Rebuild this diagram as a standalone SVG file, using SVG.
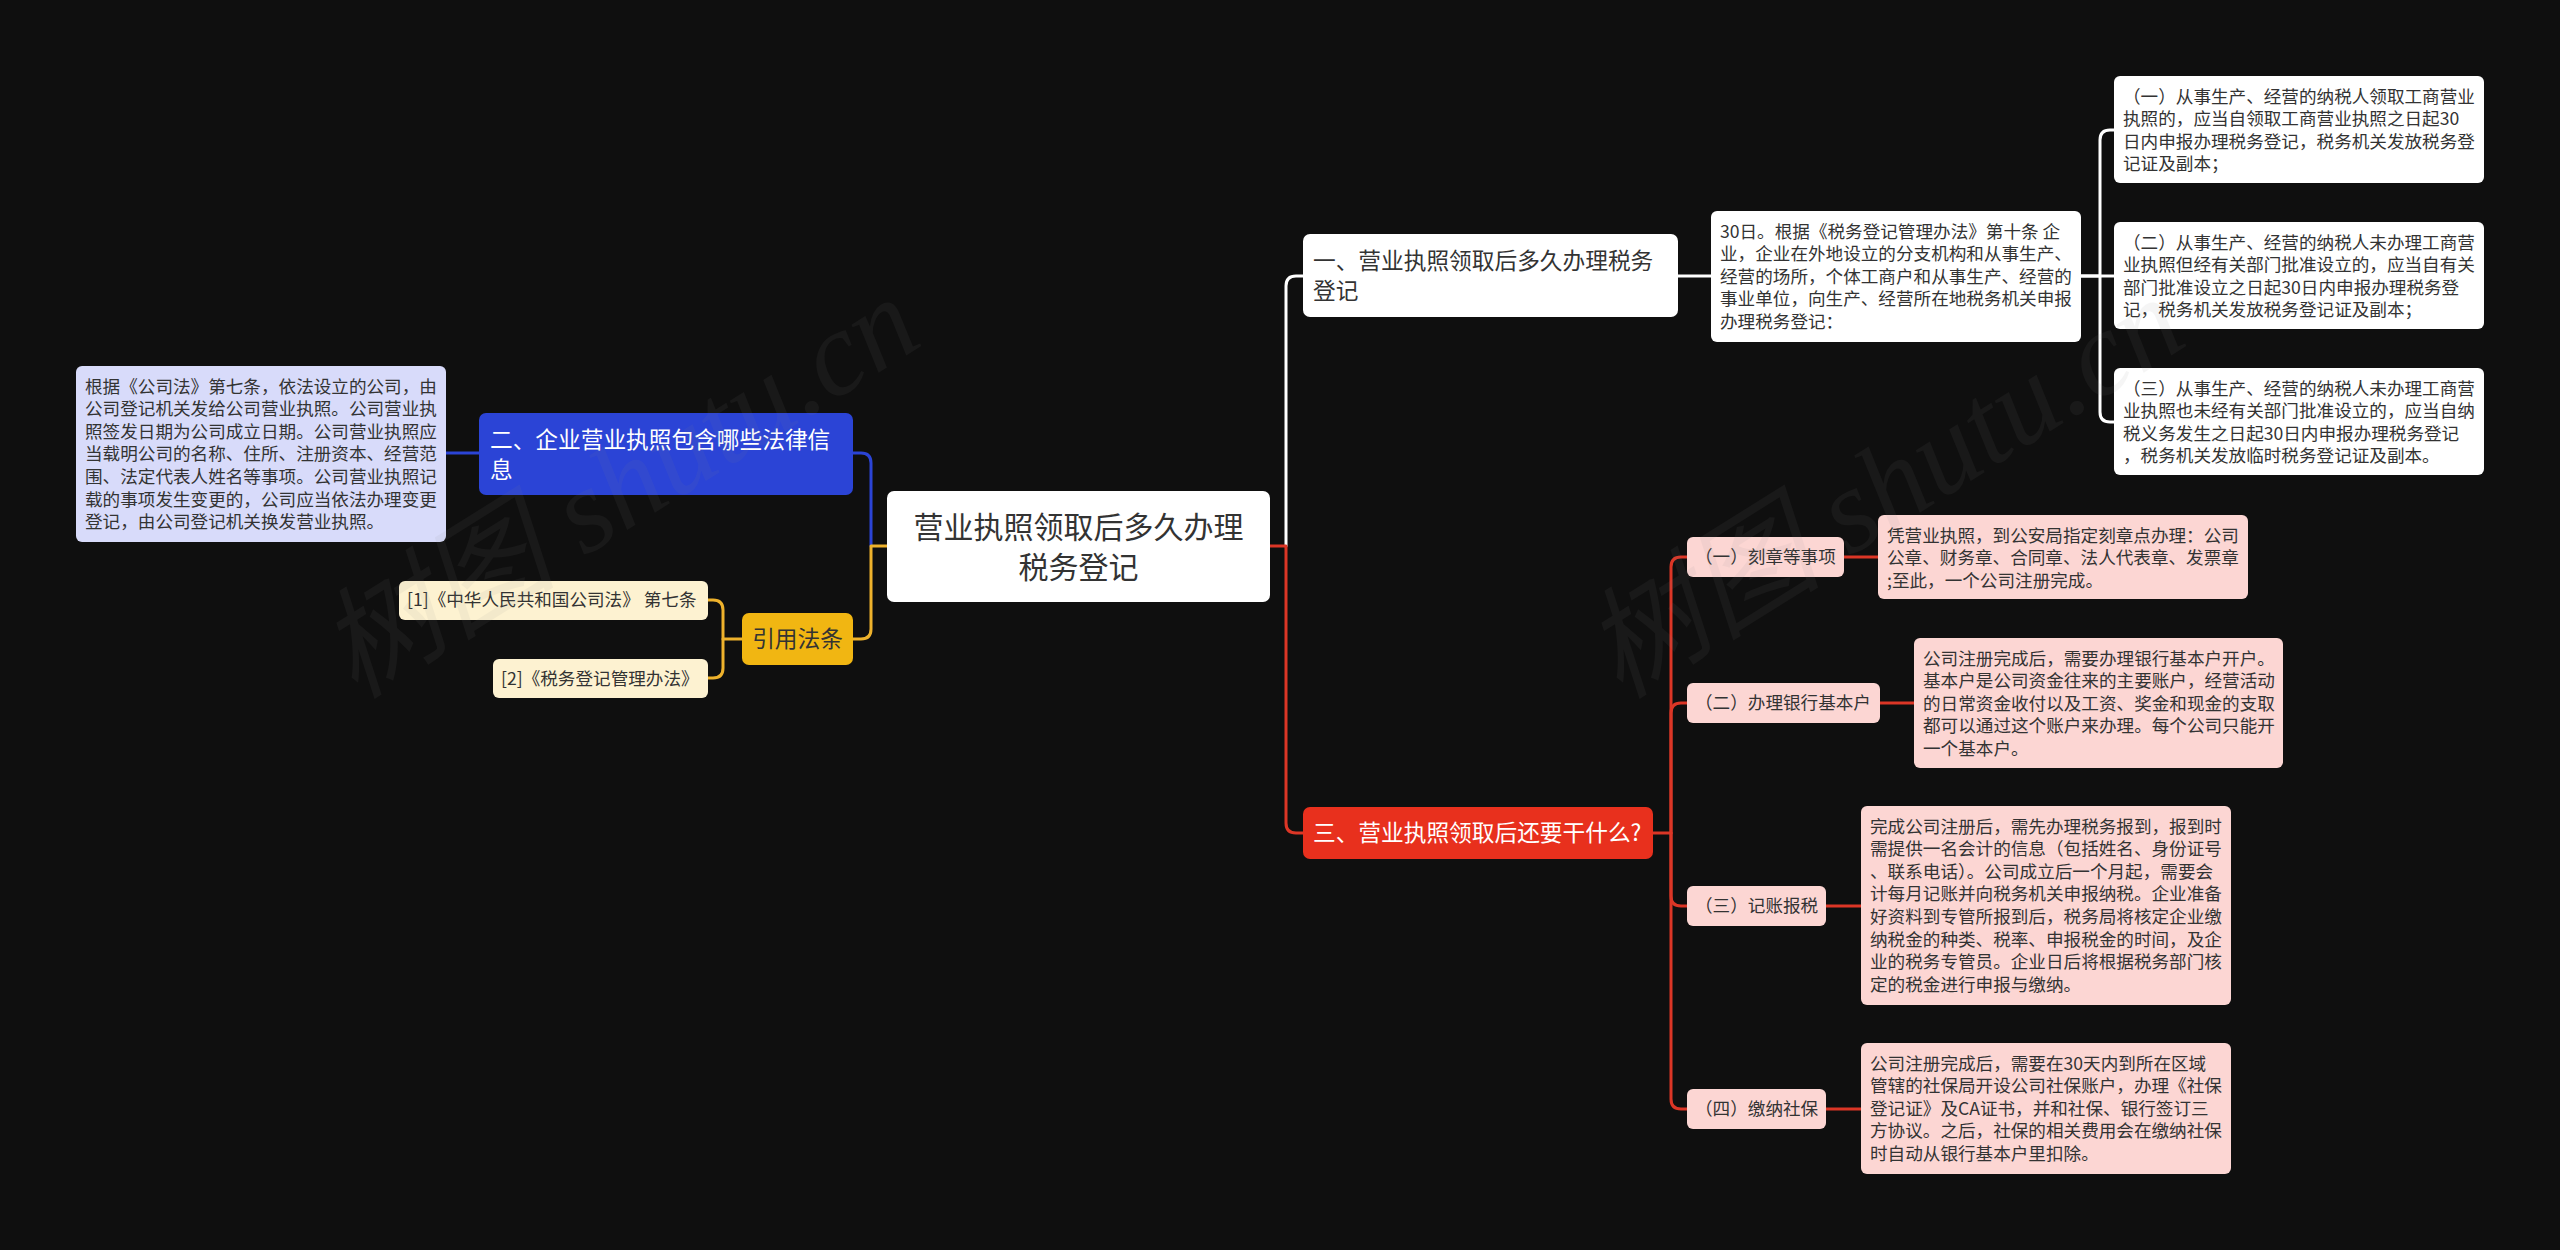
<svg xmlns="http://www.w3.org/2000/svg" width="2560" height="1250" viewBox="0 0 2560 1250">
<style>
.t{font-family:'Noto Sans CJK SC','Noto Sans',sans-serif;fill:#333333}
.w{fill:#ffffff}
.s{font-size:17.6px}
.m{font-size:22.7px}
.l{font-size:30px}
.c{fill:none;stroke-width:3;stroke-linecap:round;stroke-linejoin:round}
.cw{stroke:#ffffff}
.cb{stroke:#2b44d6}
.cy{stroke:#eeb22c}
.cr{stroke:#dc3626}
.wm{font-family:'Liberation Serif','Noto Sans CJK SC',serif;font-size:120px;font-style:italic;fill:#8a8a8a;opacity:0.08}
</style>
<rect x="0" y="0" width="2560" height="1250" fill="#0f0f0f"/>

<g id="connectors">
  <path class="c cb" d="M871 546 V463 Q871 453 861 453 H853"/>
  <path class="c cy" d="M887 546 H871 V629 Q871 639 861 639 H853"/>
  <path class="c cb" d="M479 453 H446"/>
  <path class="c cy" d="M742 639 H723 V610 Q723 600 713 600 H708"/>
  <path class="c cy" d="M723 639 V668 Q723 678 713 678 H708"/>
  <path class="c cw" d="M1286 546 V286 Q1286 276 1296 276 H1303"/>
  <path class="c cr" d="M1270 546 H1286 V823 Q1286 833 1296 833 H1303"/>
  <path class="c cw" d="M1678 276 H1711"/>
  <path class="c cw" d="M2081 276 H2100 V140 Q2100 130 2110 130 H2114"/>
  <path class="c cw" d="M2081 276 H2114"/>
  <path class="c cw" d="M2100 276 V412 Q2100 422 2110 422 H2114"/>
  <path class="c cr" d="M1653 833 H1671 V567 Q1671 557 1681 557 H1687"/>
  <path class="c cr" d="M1671 833 V713 Q1671 703 1681 703 H1687"/>
  <path class="c cr" d="M1671 833 V896 Q1671 906 1681 906 H1687"/>
  <path class="c cr" d="M1671 833 V1099 Q1671 1109 1681 1109 H1687"/>
  <path class="c cr" d="M1844 557 H1878"/>
  <path class="c cr" d="M1880 703 H1914"/>
  <path class="c cr" d="M1826 906 H1861"/>
  <path class="c cr" d="M1826 1109 H1861"/>
</g>

<g id="root">
  <rect x="887" y="491" width="383" height="111" rx="7" fill="#ffffff"/>
  <text class="t l" text-anchor="middle"><tspan x="1078.5" y="538">营业执照领取后多久办理</tspan><tspan x="1078.5" y="578">税务登记</tspan></text>
</g>

<g id="branch1">
  <rect x="1303" y="234" width="375" height="83" rx="7" fill="#ffffff"/>
  <text class="t m"><tspan x="1313" y="269">一、营业执照领取后多久办理税务</tspan><tspan x="1313" y="299">登记</tspan></text>
</g>
<g id="branch1-detail">
  <rect x="1711" y="211" width="370" height="131" rx="6" fill="#ffffff"/>
  <text class="t s"><tspan x="1720" y="237.5">30日。根据《税务登记管理办法》第十条 企</tspan><tspan x="1720" y="260.1">业，企业在外地设立的分支机构和从事生产、</tspan><tspan x="1720" y="282.7">经营的场所，个体工商户和从事生产、经营的</tspan><tspan x="1720" y="305.3">事业单位，向生产、经营所在地税务机关申报</tspan><tspan x="1720" y="327.9">办理税务登记：</tspan></text>
</g>
<g id="b1-item1">
  <rect x="2114" y="76" width="370" height="107" rx="6" fill="#ffffff"/>
  <text class="t s"><tspan x="2123" y="102.5">（一）从事生产、经营的纳税人领取工商营业</tspan><tspan x="2123" y="125.1">执照的，应当自领取工商营业执照之日起30</tspan><tspan x="2123" y="147.7">日内申报办理税务登记，税务机关发放税务登</tspan><tspan x="2123" y="170.3">记证及副本；</tspan></text>
</g>
<g id="b1-item2">
  <rect x="2114" y="222" width="370" height="107" rx="6" fill="#ffffff"/>
  <text class="t s"><tspan x="2123" y="248.5">（二）从事生产、经营的纳税人未办理工商营</tspan><tspan x="2123" y="271.1">业执照但经有关部门批准设立的，应当自有关</tspan><tspan x="2123" y="293.7">部门批准设立之日起30日内申报办理税务登</tspan><tspan x="2123" y="316.3">记，税务机关发放税务登记证及副本；</tspan></text>
</g>
<g id="b1-item3">
  <rect x="2114" y="368" width="370" height="107" rx="6" fill="#ffffff"/>
  <text class="t s"><tspan x="2123" y="394.5">（三）从事生产、经营的纳税人未办理工商营</tspan><tspan x="2123" y="417.1">业执照也未经有关部门批准设立的，应当自纳</tspan><tspan x="2123" y="439.7">税义务发生之日起30日内申报办理税务登记</tspan><tspan x="2123" y="462.3">，税务机关发放临时税务登记证及副本。</tspan></text>
</g>

<g id="branch2">
  <rect x="479" y="413" width="374" height="82" rx="7" fill="#2b44d6"/>
  <text class="t m w"><tspan x="490" y="448">二、企业营业执照包含哪些法律信</tspan><tspan x="490" y="478">息</tspan></text>
</g>
<g id="branch2-detail">
  <rect x="76" y="366" width="370" height="176" rx="6" fill="#d8dbfa"/>
  <text class="t s"><tspan x="85" y="392.5">根据《公司法》第七条，依法设立的公司，由</tspan><tspan x="85" y="415.1">公司登记机关发给公司营业执照。公司营业执</tspan><tspan x="85" y="437.7">照签发日期为公司成立日期。公司营业执照应</tspan><tspan x="85" y="460.3">当载明公司的名称、住所、注册资本、经营范</tspan><tspan x="85" y="482.9">围、法定代表人姓名等事项。公司营业执照记</tspan><tspan x="85" y="505.5">载的事项发生变更的，公司应当依法办理变更</tspan><tspan x="85" y="528.1">登记，由公司登记机关换发营业执照。</tspan></text>
</g>

<g id="cite">
  <rect x="742" y="613" width="111" height="52" rx="7" fill="#f1b612"/>
  <text class="t m" x="797.5" y="647" text-anchor="middle">引用法条</text>
</g>
<g id="cite1">
  <rect x="399" y="581" width="309" height="39" rx="6" fill="#fdf2d1"/>
  <text class="t s" x="407" y="606.3">[1]《中华人民共和国公司法》 第七条</text>
</g>
<g id="cite2">
  <rect x="493" y="659" width="215" height="39" rx="6" fill="#fdf2d1"/>
  <text class="t s" x="501" y="684.8">[2]《税务登记管理办法》</text>
</g>

<g id="branch3">
  <rect x="1303" y="807" width="350" height="52" rx="7" fill="#e8301d"/>
  <text class="t m w" x="1313" y="841">三、营业执照领取后还要干什么?</text>
</g>
<g id="b3-item1">
  <rect x="1687" y="537" width="157" height="40" rx="6" fill="#fcd6d3"/>
  <text class="t s" x="1695" y="563.3">（一）刻章等事项</text>
</g>
<g id="b3-item1-detail">
  <rect x="1878" y="515" width="370" height="84" rx="6" fill="#fcd6d3"/>
  <text class="t s"><tspan x="1887" y="541.5">凭营业执照，到公安局指定刻章点办理：公司</tspan><tspan x="1887" y="564.1">公章、财务章、合同章、法人代表章、发票章</tspan><tspan x="1887" y="586.7">;至此，一个公司注册完成。</tspan></text>
</g>
<g id="b3-item2">
  <rect x="1687" y="683" width="193" height="40" rx="6" fill="#fcd6d3"/>
  <text class="t s" x="1695" y="709.3">（二）办理银行基本户</text>
</g>
<g id="b3-item2-detail">
  <rect x="1914" y="638" width="369" height="130" rx="6" fill="#fcd6d3"/>
  <text class="t s"><tspan x="1923" y="664.5">公司注册完成后，需要办理银行基本户开户。</tspan><tspan x="1923" y="687.1">基本户是公司资金往来的主要账户，经营活动</tspan><tspan x="1923" y="709.7">的日常资金收付以及工资、奖金和现金的支取</tspan><tspan x="1923" y="732.3">都可以通过这个账户来办理。每个公司只能开</tspan><tspan x="1923" y="754.9">一个基本户。</tspan></text>
</g>
<g id="b3-item3">
  <rect x="1687" y="886" width="139" height="40" rx="6" fill="#fcd6d3"/>
  <text class="t s" x="1695" y="912.3">（三）记账报税</text>
</g>
<g id="b3-item3-detail">
  <rect x="1861" y="806" width="370" height="199" rx="6" fill="#fcd6d3"/>
  <text class="t s"><tspan x="1870" y="832.5">完成公司注册后，需先办理税务报到，报到时</tspan><tspan x="1870" y="855.1">需提供一名会计的信息（包括姓名、身份证号</tspan><tspan x="1870" y="877.7">、联系电话）。公司成立后一个月起，需要会</tspan><tspan x="1870" y="900.3">计每月记账并向税务机关申报纳税。企业准备</tspan><tspan x="1870" y="922.9">好资料到专管所报到后，税务局将核定企业缴</tspan><tspan x="1870" y="945.5">纳税金的种类、税率、申报税金的时间，及企</tspan><tspan x="1870" y="968.1">业的税务专管员。企业日后将根据税务部门核</tspan><tspan x="1870" y="990.7">定的税金进行申报与缴纳。</tspan></text>
</g>
<g id="b3-item4">
  <rect x="1687" y="1089" width="139" height="40" rx="6" fill="#fcd6d3"/>
  <text class="t s" x="1695" y="1115.3">（四）缴纳社保</text>
</g>
<g id="b3-item4-detail">
  <rect x="1861" y="1043" width="370" height="131" rx="6" fill="#fcd6d3"/>
  <text class="t s"><tspan x="1870" y="1069.5">公司注册完成后，需要在30天内到所在区域</tspan><tspan x="1870" y="1092.1">管辖的社保局开设公司社保账户，办理《社保</tspan><tspan x="1870" y="1114.7">登记证》及CA证书，并和社保、银行签订三</tspan><tspan x="1870" y="1137.3">方协议。之后，社保的相关费用会在缴纳社保</tspan><tspan x="1870" y="1159.9">时自动从银行基本户里扣除。</tspan></text>
</g>

<g id="watermark">
  <text class="wm" transform="translate(355 700) rotate(-32)">树图 shutu.cn</text>
  <text class="wm" transform="translate(1620 700) rotate(-32)">树图 shutu.cn</text>
</g>
</svg>
